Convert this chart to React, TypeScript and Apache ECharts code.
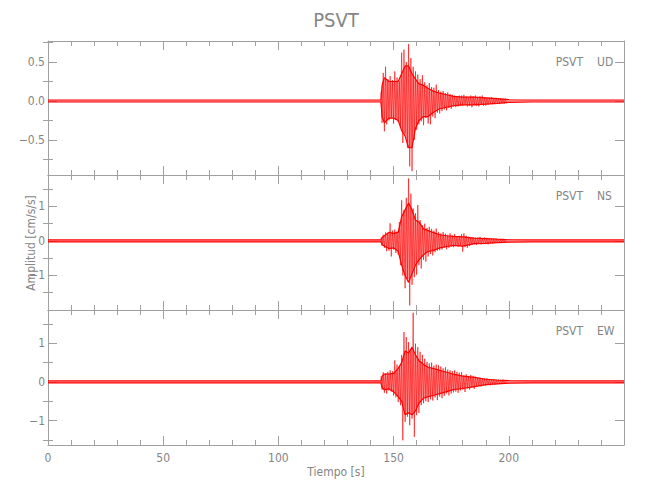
import React, { useEffect, useRef } from "react";
import * as echarts from "echarts";

const chartTitle = "PSVT";
const xTitle = "Tiempo [s]";
const yTitle = "Amplitud [cm/s/s]";
const station = "PSVT";
const components = ["UD", "NS", "EW"];

const xMin = 0;
const xMax = 250;
const xInterval = 50;

// y ranges of each panel
const udRange = [-0.95, 0.77];
const nsRange = [-2.0, 1.91];
const ewRange = [-1.63, 1.86];

const udMajor = [-0.5, 0, 0.5];
const udMinor = [-0.75, -0.25, 0.25, 0.75];
const nsMajor = [-1, 0, 1];
const nsMinor = [-1.5, -0.5, 0.5, 1.5];
const ewMajor = [-1, 0, 1];
const ewMinor = [-1.5, -0.5, 0.5, 1.5];

// peak-by-peak readings of the strong motion, one every 0.5 s from 144.5 s
const peakStart = 144.5;
const peakStep = 0.5;
const udPeaks = [
  0.12, -0.28, 0.36, -0.39, 0.44, -0.3, 0.28, -0.25, 0.32, -0.22,
  0.27, -0.29, 0.38, -0.24, 0.3, -0.27, 0.25, -0.33, 0.62, -0.54,
  0.66, -0.42, 0.5, -0.6, 0.73, -0.84, 0.55, -0.9, 0.44, -0.5,
  0.38, -0.37, 0.34, -0.3, 0.28, -0.26, 0.33, -0.31, 0.24, -0.22,
  0.2, -0.29, 0.23, -0.3, 0.18, -0.2, 0.17, -0.22, 0.21, -0.15,
  0.14, -0.16, 0.12, -0.13, 0.13, -0.11, 0.1, -0.12, 0.11, -0.09,
  0.09, -0.1, 0.08, -0.07, 0.07, -0.08, 0.06, -0.07, 0.07, -0.06,
  0.07, -0.06, 0.08, -0.05, 0.06, -0.07, 0.05, -0.06, 0.07, -0.08,
  0.06, -0.05, 0.07, -0.06, 0.05, -0.07, 0.06, -0.05, 0.07, -0.06,
  0.05, -0.06, 0.04, -0.05, 0.04, -0.03, 0.05, -0.04, 0.03, -0.04,
  0.04, -0.03, 0.03, -0.04, 0.035, -0.03, 0.03, -0.035, 0.03, -0.03,
];
const nsPeaks = [
  0.1, -0.14, 0.18, -0.2, 0.25, -0.3, 0.22, -0.28, 0.51, -0.45,
  0.3, -0.25, 0.33, -0.35, 0.28, -0.4, 0.55, -0.7, 1.18, -1.0,
  0.9, -1.37, 1.25, -1.1, 1.81, -1.87, 1.37, -1.27, 0.94, -1.05,
  0.8, -0.98, 1.04, -0.7, 0.6, -0.8, 0.45, -0.55, 0.5, -0.6,
  0.38, -0.45, 0.41, -0.38, 0.35, -0.42, 0.3, -0.33, 0.36, -0.28,
  0.25, -0.27, 0.22, -0.25, 0.26, -0.2, 0.21, -0.24, 0.18, -0.2,
  0.22, -0.17, 0.16, -0.18, 0.2, -0.15, 0.14, -0.17, 0.15, -0.13,
  0.2, -0.31, 0.22, -0.18, 0.15, -0.2, 0.12, -0.15, 0.1, -0.12,
  0.11, -0.1, 0.09, -0.12, 0.1, -0.08, 0.12, -0.1, 0.08, -0.09,
  0.1, -0.08, 0.09, -0.1, 0.07, -0.06, 0.06, -0.07, 0.05, -0.06,
  0.06, -0.05, 0.05, -0.06, 0.05, -0.05, 0.06, -0.04, 0.05, -0.05,
];
const ewPeaks = [
  0.15, -0.2, 0.25, -0.28, 0.22, -0.3, 0.26, -0.22, 0.3, -0.25,
  0.28, -0.35, 0.56, -0.4, 0.45, -0.52, 0.4, -0.6, 0.7, -1.51,
  1.29, -1.03, 1.16, -0.9, 1.03, -1.12, 0.85, -0.95, 1.79, -1.42,
  0.99, -0.86, 0.9, -0.8, 0.78, -0.6, 0.7, -0.55, 0.6, -0.5,
  0.52, -0.52, 0.48, -0.45, 0.5, -0.48, 0.42, -0.4, 0.45, -0.47,
  0.43, -0.38, 0.4, -0.42, 0.35, -0.36, 0.38, -0.3, 0.32, -0.35,
  0.3, -0.3, 0.28, -0.27, 0.3, -0.25, 0.26, -0.28, 0.24, -0.22,
  0.25, -0.2, 0.18, -0.26, 0.2, -0.17, 0.15, -0.2, 0.18, -0.15,
  0.16, -0.18, 0.14, -0.12, 0.12, -0.1, 0.11, -0.12, 0.1, -0.09,
  0.09, -0.1, 0.1, -0.08, 0.08, -0.09, 0.07, -0.06, 0.06, -0.07,
  0.05, -0.06, 0.06, -0.05, 0.05, -0.05, 0.06, -0.05, 0.05, -0.04,
];

// envelope of the dense trace (upper / lower), read at these times
const envTimes = [0, 144.5, 145, 146, 148, 150, 152, 153.5, 155, 156.5, 158, 159.5, 161, 163, 165, 167, 170, 173, 176, 180, 185, 190, 195, 200, 210, 250];
const udEnvHi = [0.013, 0.013, 0.2, 0.3, 0.25, 0.25, 0.25, 0.35, 0.45, 0.45, 0.35, 0.28, 0.22, 0.2, 0.16, 0.13, 0.1, 0.08, 0.06, 0.05, 0.05, 0.04, 0.03, 0.018, 0.013, 0.013];
const udEnvLo = [-0.013, -0.013, -0.2, -0.28, -0.22, -0.22, -0.25, -0.38, -0.45, -0.6, -0.6, -0.35, -0.25, -0.2, -0.2, -0.15, -0.1, -0.08, -0.06, -0.05, -0.05, -0.04, -0.03, -0.018, -0.013, -0.013];
const nsEnvHi = [0.029, 0.029, 0.1, 0.15, 0.25, 0.22, 0.25, 0.7, 0.9, 1.1, 0.9, 0.6, 0.55, 0.35, 0.3, 0.25, 0.18, 0.15, 0.13, 0.12, 0.08, 0.07, 0.05, 0.035, 0.029, 0.029];
const nsEnvLo = [-0.029, -0.029, -0.1, -0.15, -0.22, -0.2, -0.3, -0.7, -1.0, -1.2, -0.95, -0.7, -0.55, -0.4, -0.3, -0.28, -0.2, -0.16, -0.13, -0.15, -0.08, -0.07, -0.05, -0.035, -0.029, -0.029];
const ewEnvHi = [0.026, 0.026, 0.15, 0.2, 0.2, 0.22, 0.35, 0.5, 0.8, 0.75, 0.9, 0.7, 0.55, 0.45, 0.38, 0.35, 0.3, 0.25, 0.2, 0.15, 0.12, 0.07, 0.05, 0.032, 0.026, 0.026];
const ewEnvLo = [-0.026, -0.026, -0.15, -0.2, -0.18, -0.25, -0.38, -0.5, -0.85, -0.8, -0.85, -0.75, -0.55, -0.42, -0.38, -0.35, -0.3, -0.25, -0.2, -0.17, -0.12, -0.07, -0.05, -0.032, -0.026, -0.026];

const panels = [
  { comp: components[0], range: udRange, major: udMajor, minor: udMinor, peaks: udPeaks, hi: udEnvHi, lo: udEnvLo, digits: 1 },
  { comp: components[1], range: nsRange, major: nsMajor, minor: nsMinor, peaks: nsPeaks, hi: nsEnvHi, lo: nsEnvLo, digits: 0 },
  { comp: components[2], range: ewRange, major: ewMajor, minor: ewMinor, peaks: ewPeaks, hi: ewEnvHi, lo: ewEnvLo, digits: 0 },
];

const PLOT_LEFT = 48;
const PLOT_RIGHT = 624;
const panelTops = [41, 175, 310];
const panelHeights = [134, 135, 135];

const AXIS = "#a0a0a0";
const TEXT = "#858585";
const RED = "#ff0000";
const FONT = "'DejaVu Sans Condensed', 'Liberation Sans', sans-serif";

export default function App() {
  const ref = useRef<HTMLDivElement>(null);
  useEffect(() => {
    document.body.style.margin = "0";
    const chart = echarts.init(ref.current!, null, { renderer: "svg" });
    const grids: any[] = [];
    const xAxes: any[] = [];
    const yAxes: any[] = [];
    const series: any[] = [];
    const graphics: any[] = [];

    panels.forEach((p, i) => {
      grids.push({
        left: PLOT_LEFT,
        width: PLOT_RIGHT - PLOT_LEFT,
        top: panelTops[i],
        height: panelHeights[i],
        containLabel: false,
      });
      const xBase = {
        type: "value",
        gridIndex: i,
        min: xMin,
        max: xMax,
        interval: xInterval,
        splitLine: { show: false },
        axisLine: { show: true, onZero: false, lineStyle: { color: AXIS, width: 1 } },
        axisTick: { show: true, inside: true, length: 9, lineStyle: { color: AXIS } },
        minorTick: { show: true, splitNumber: 5, length: 5, lineStyle: { color: AXIS } },
      };
      xAxes.push({
        ...xBase,
        position: "bottom",
        axisLabel: {
          show: i === panels.length - 1,
          showMaxLabel: false,
          color: TEXT,
          fontSize: 12,
          fontFamily: FONT,
          margin: 7,
        },
      });
      xAxes.push({ ...xBase, position: "top", axisLabel: { show: false } });

      const fmt = (v: number) => v.toFixed(p.digits).replace("-", "\u2212");
      const yCommon = {
        type: "value",
        gridIndex: i,
        min: p.range[0],
        max: p.range[1],
        splitLine: { show: false },
      };
      yAxes.push({
        ...yCommon,
        position: "left",
        axisLine: { show: true, onZero: false, lineStyle: { color: AXIS, width: 1 } },
        axisTick: { show: true, inside: true, length: 9, customValues: p.major, lineStyle: { color: AXIS } },
        axisLabel: {
          show: true,
          customValues: p.major,
          formatter: fmt,
          color: TEXT,
          fontSize: 12,
          fontFamily: FONT,
          margin: 3,
        },
      });
      yAxes.push({
        ...yCommon,
        position: "left",
        axisLine: { show: false },
        axisTick: { show: true, inside: true, length: 5, customValues: p.minor, lineStyle: { color: AXIS } },
        axisLabel: { show: false },
      });
      yAxes.push({
        ...yCommon,
        position: "right",
        axisLine: { show: true, onZero: false, lineStyle: { color: AXIS, width: 1 } },
        axisTick: { show: true, inside: true, length: 9, customValues: p.major, lineStyle: { color: AXIS } },
        axisLabel: { show: false },
      });
      yAxes.push({
        ...yCommon,
        position: "right",
        axisLine: { show: false },
        axisTick: { show: true, inside: true, length: 5, customValues: p.minor, lineStyle: { color: AXIS } },
        axisLabel: { show: false },
      });

      const common = {
        type: "line",
        xAxisIndex: 2 * i,
        yAxisIndex: 4 * i,
        showSymbol: false,
        symbol: "none",
        silent: true,
        clip: true,
      };
      series.push({
        ...common,
        name: p.comp + " env+",
        data: envTimes.map((t, k) => [t, p.hi[k]]),
        lineStyle: { color: RED, width: 1.2, opacity: 1 },
        areaStyle: { color: RED, opacity: 0.38, origin: 0 },
      });
      series.push({
        ...common,
        name: p.comp + " env-",
        data: envTimes.map((t, k) => [t, p.lo[k]]),
        lineStyle: { color: RED, width: 1.2, opacity: 1 },
        areaStyle: { color: RED, opacity: 0.38, origin: 0 },
      });
      series.push({
        ...common,
        name: p.comp,
        data: p.peaks.map((v, k) => [peakStart + k * peakStep, v]),
        lineStyle: { color: RED, width: 0.8, opacity: 0.75 },
      });

      const labelY = panelTops[i] + 21;
      graphics.push({
        type: "text",
        x: 583,
        y: labelY,
        style: { text: station, fill: TEXT, font: `12px ${FONT}`, align: "right", verticalAlign: "middle", textAlign: "right", textVerticalAlign: "middle" },
      });
      graphics.push({
        type: "text",
        x: 597,
        y: labelY,
        style: { text: p.comp, fill: TEXT, font: `12px ${FONT}`, align: "left", verticalAlign: "middle", textAlign: "left", textVerticalAlign: "middle" },
      });
    });

    graphics.push({
      type: "text",
      x: 336,
      y: 20,
      style: { text: chartTitle, fill: TEXT, font: `20px ${FONT}`, align: "center", verticalAlign: "middle", textAlign: "center", textVerticalAlign: "middle" },
    });
    graphics.push({
      type: "text",
      x: 336,
      y: 472,
      style: { text: xTitle, fill: TEXT, font: `12px ${FONT}`, align: "center", verticalAlign: "middle", textAlign: "center", textVerticalAlign: "middle" },
    });
    graphics.push({
      type: "text",
      x: 31,
      y: 243,
      rotation: Math.PI / 2,
      style: { text: yTitle, fill: TEXT, font: `12px ${FONT}`, align: "center", verticalAlign: "middle", textAlign: "center", textVerticalAlign: "middle" },
    });

    chart.setOption({
      animation: false,
      backgroundColor: "#ffffff",
      grid: grids,
      xAxis: xAxes,
      yAxis: yAxes,
      series,
      graphic: graphics,
    });
    return () => chart.dispose();
  }, []);
  return <div ref={ref} style={{ width: 650, height: 500 }} />;
}
